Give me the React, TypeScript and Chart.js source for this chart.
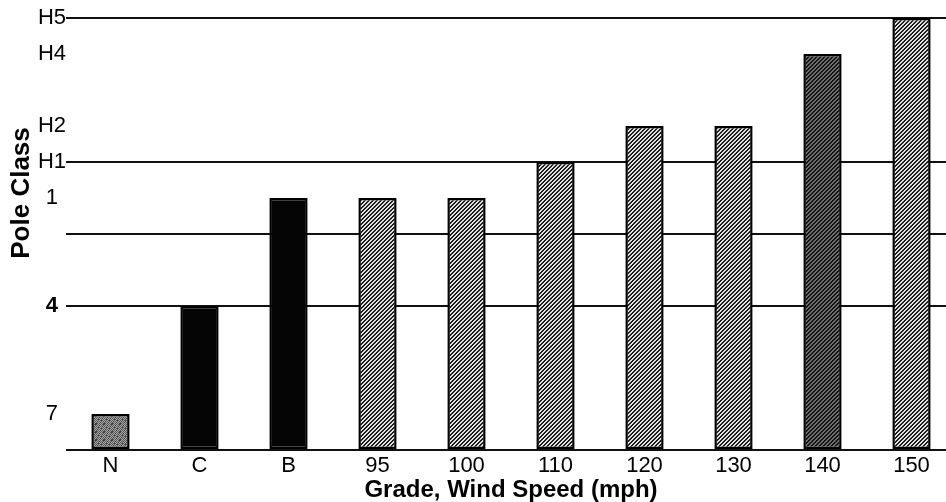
import { useEffect, useRef } from "react";
import { Chart, registerables } from "chart.js";

Chart.register(...registerables);

// ---- data ----
const categories = ["N", "C", "B", "95", "100", "110", "120", "130", "140", "150"];
// pole class expressed as level above baseline: 7→1, 6→2, 5→3, 4→4, 3→5, 2→6, 1→7, H1→8, H2→9, H3→10, H4→11, H5→12
const poleLevels = [1, 4, 7, 7, 7, 8, 9, 9, 11, 12];
const tickValues = [12, 11, 9, 8, 7, 4, 1];
const tickLabels = ["H5", "H4", "H2", "H1", "1", "4", "7"];
const gridValues = [12, 8, 6, 4, 0];
const barKinds = ["stipple", "solid", "solid", "hatch", "hatch", "hatch", "hatch", "hatch", "hatchDark", "hatch"];
const xTitle = "Grade, Wind Speed (mph)";
const yTitle = "Pole Class";

const FONT = '"Liberation Sans", Arial, sans-serif';

function makeFill(kind: string): any {
  if (kind === "solid") return "#050505";
  const size = 8;
  const c = document.createElement("canvas");
  c.width = size;
  c.height = size;
  const g = c.getContext("2d")!;
  const img = g.createImageData(size, size);
  for (let y = 0; y < size; y++) {
    for (let x = 0; x < size; x++) {
      let v = 255;
      if (kind === "stipple") {
        v = (x + y) % 2 === 0 ? 90 : 165;
        if ((x * 3 + y * 5) % 7 === 0) v = 60;
      } else if (kind === "hatch") {
        v = (x + y) % 4 < 2 ? 30 : 225;
      } else if (kind === "hatchDark") {
        v = (x + y) % 4 < 2 ? 20 : 110;
      }
      const i = (y * size + x) * 4;
      img.data[i] = v;
      img.data[i + 1] = v;
      img.data[i + 2] = v;
      img.data[i + 3] = 255;
    }
  }
  g.putImageData(img, 0, 0);
  return g.createPattern(c, "repeat");
}

const yTitlePlugin = {
  id: "yTitleCustom",
  afterDraw(chart: any) {
    const ctx = chart.ctx;
    ctx.save();
    ctx.translate(22, 193);
    ctx.rotate(-Math.PI / 2);
    ctx.font = `bold 26px ${FONT}`;
    ctx.fillStyle = "#000";
    ctx.textAlign = "center";
    ctx.textBaseline = "middle";
    ctx.fillText(yTitle, 0, 0);
    ctx.restore();
  },
};

export default function App() {
  const ref = useRef<HTMLCanvasElement | null>(null);

  useEffect(() => {
    if (!ref.current) return;
    const fills = barKinds.map(makeFill);
    const chart = new Chart(ref.current, {
      type: "bar",
      data: {
        labels: categories,
        datasets: [
          {
            data: poleLevels,
            backgroundColor: fills,
            borderColor: "#000",
            borderWidth: 2.5,
            borderSkipped: false,
            barPercentage: 0.43,
            categoryPercentage: 1,
          },
        ],
      },
      options: {
        responsive: false,
        animation: false,
        devicePixelRatio: 1,
        layout: { padding: { top: 18, left: 0, right: 0, bottom: 0 } },
        plugins: {
          legend: { display: false },
          tooltip: { enabled: false },
        },
        scales: {
          x: {
            grid: { display: false },
            border: { display: false },
            ticks: {
              color: "#000",
              padding: 0,
              font: { family: FONT, size: 22, lineHeight: 0.7 },
            },
            title: {
              display: true,
              text: xTitle,
              color: "#000",
              padding: 0,
              font: { family: FONT, size: 24, weight: "bold", lineHeight: 1.0 },
            },
            afterFit: (scale: any) => {
              scale.height = 52;
            },
          },
          y: {
            min: 0,
            max: 12,
            border: { display: false },
            grid: {
              drawTicks: false,
              lineWidth: 2,
              color: (ctx: any) =>
                ctx.tick && gridValues.includes(ctx.tick.value) ? "#111" : "rgba(0,0,0,0)",
            },
            ticks: {
              stepSize: 1,
              autoSkip: false,
              padding: 0,
              crossAlign: "center",
              color: "#000",
              font: (ctx: any) => ({
                family: FONT,
                size: 22,
                weight: ctx.tick && ctx.tick.value === 4 ? "bold" : "normal",
              }),
              callback: (v: any) => {
                const i = tickValues.indexOf(Number(v));
                return i >= 0 ? tickLabels[i] : "";
              },
            },
            afterFit: (scale: any) => {
              scale.width = 66;
            },
          },
        },
      },
      plugins: [yTitlePlugin],
    } as any);
    return () => chart.destroy();
  }, []);

  return (
    <div
      style={{
        position: "fixed",
        left: 0,
        top: 0,
        width: 946,
        height: 502,
        overflow: "hidden",
        background: "#fff",
      }}
    >
      <canvas ref={ref} width={956} height={502} style={{ display: "block" }} />
    </div>
  );
}
